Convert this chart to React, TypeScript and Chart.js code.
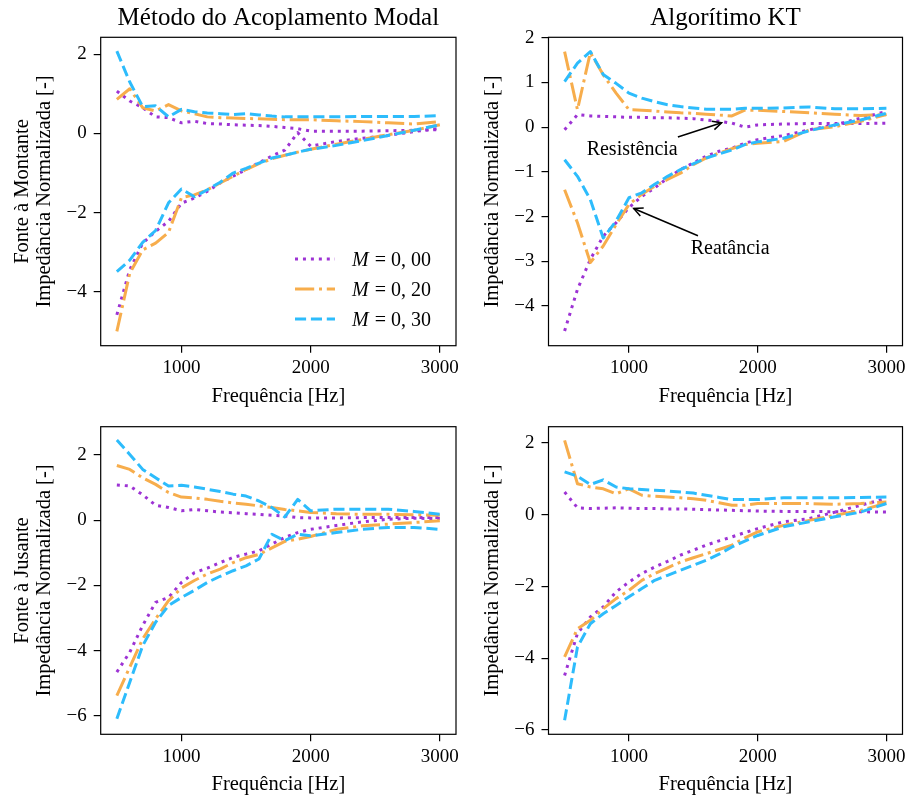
import React, { useEffect, useRef } from 'react';
import { Chart, registerables } from 'chart.js';

Chart.register(...registerables);

// ---------------- data ----------------
const FREQ = [500, 600, 700, 800, 900, 1000, 1100, 1200, 1300, 1400, 1500, 1600, 1700, 1800, 1900, 2000, 2200, 2400, 2600, 2800, 3000];

// Método do Acoplamento Modal — Fonte à Montante
const mamMontR00 = [1.07, 0.82, 0.65, 0.42, 0.40, 0.27, 0.31, 0.25, 0.24, 0.22, 0.21, 0.20, 0.18, 0.15, 0.12, 0.06, 0.06, 0.06, 0.07, 0.08, 0.10];
const mamMontX00 = [-4.58, -3.44, -2.77, -2.47, -2.22, -1.76, -1.63, -1.46, -1.25, -1.08, -0.91, -0.74, -0.57, -0.42, 0.02, -0.32, -0.20, -0.12, -0.05, 0.05, 0.13];
const mamMontR20 = [0.86, 1.13, 0.65, 0.57, 0.73, 0.57, 0.50, 0.42, 0.40, 0.39, 0.38, 0.37, 0.36, 0.35, 0.35, 0.35, 0.32, 0.30, 0.27, 0.24, 0.30];
const mamMontX20 = [-5.00, -3.53, -2.94, -2.77, -2.50, -1.62, -1.55, -1.42, -1.25, -1.08, -0.91, -0.76, -0.64, -0.55, -0.47, -0.40, -0.27, -0.15, -0.03, 0.08, 0.22];
const mamMontR30 = [2.08, 1.30, 0.68, 0.70, 0.42, 0.61, 0.55, 0.52, 0.50, 0.48, 0.50, 0.47, 0.44, 0.42, 0.42, 0.42, 0.42, 0.43, 0.43, 0.43, 0.45];
const mamMontX30 = [-3.49, -3.20, -2.75, -2.45, -1.75, -1.40, -1.60, -1.42, -1.23, -1.00, -0.88, -0.75, -0.62, -0.55, -0.47, -0.40, -0.30, -0.18, -0.05, 0.08, 0.22];

// Algorítimo KT — Fonte à Montante
const ktMontR00 = [-0.06, 0.28, 0.25, 0.24, 0.23, 0.22, 0.22, 0.21, 0.21, 0.20, 0.19, 0.16, 0.13, 0.09, 0.00, 0.05, 0.07, 0.08, 0.08, 0.08, 0.09];
const ktMontX00 = [-4.56, -3.63, -2.96, -2.44, -2.14, -1.80, -1.55, -1.36, -1.14, -0.95, -0.80, -0.65, -0.54, -0.47, -0.36, -0.28, -0.19, -0.06, 0.05, 0.20, 0.35];
const ktMontR20 = [1.69, 0.39, 1.67, 1.17, 0.76, 0.39, 0.38, 0.36, 0.34, 0.32, 0.31, 0.29, 0.27, 0.25, 0.38, 0.38, 0.35, 0.32, 0.29, 0.26, 0.28];
const ktMontX20 = [-1.40, -2.14, -3.03, -2.66, -2.18, -1.73, -1.50, -1.32, -1.17, -1.03, -0.84, -0.69, -0.58, -0.48, -0.39, -0.36, -0.32, -0.06, 0.01, 0.13, 0.28];
const ktMontR30 = [1.02, 1.43, 1.69, 1.18, 0.98, 0.76, 0.65, 0.57, 0.50, 0.46, 0.43, 0.40, 0.40, 0.40, 0.42, 0.42, 0.43, 0.45, 0.41, 0.41, 0.42];
const ktMontX30 = [-0.73, -1.10, -1.62, -2.48, -2.10, -1.58, -1.47, -1.28, -1.10, -0.95, -0.82, -0.69, -0.60, -0.51, -0.39, -0.33, -0.25, -0.08, 0.05, 0.16, 0.31];

// Método do Acoplamento Modal — Fonte à Jusante
const mamJusR00 = [1.08, 1.05, 0.78, 0.46, 0.39, 0.29, 0.33, 0.29, 0.25, 0.23, 0.20, 0.18, 0.15, 0.13, 0.08, 0.07, 0.07, 0.08, 0.08, 0.08, 0.08];
const mamJusX00 = [-4.66, -4.05, -3.23, -2.52, -2.37, -1.91, -1.61, -1.47, -1.30, -1.14, -1.04, -0.94, -0.73, -0.53, -0.38, -0.28, -0.16, -0.05, 0.03, 0.06, 0.05];
const mamJusR20 = [1.68, 1.56, 1.30, 1.10, 0.85, 0.71, 0.68, 0.64, 0.58, 0.53, 0.49, 0.44, 0.39, 0.33, 0.29, 0.24, 0.20, 0.18, 0.18, 0.17, 0.15];
const mamJusX20 = [-5.38, -4.51, -3.64, -3.03, -2.47, -2.08, -1.85, -1.65, -1.50, -1.30, -1.15, -1.05, -0.85, -0.65, -0.58, -0.50, -0.28, -0.17, -0.12, -0.07, -0.02];
const mamJusR30 = [2.46, 2.02, 1.56, 1.30, 1.05, 1.07, 1.02, 0.95, 0.88, 0.80, 0.74, 0.59, 0.39, 0.10, 0.64, 0.29, 0.34, 0.34, 0.34, 0.27, 0.18];
const mamJusX30 = [-6.09, -4.97, -3.85, -3.13, -2.62, -2.37, -2.15, -1.91, -1.72, -1.55, -1.40, -1.19, -0.43, -0.63, -0.43, -0.48, -0.38, -0.28, -0.22, -0.22, -0.28];

// Algorítimo KT — Fonte à Jusante
const ktJusR00 = [0.63, 0.19, 0.17, 0.18, 0.19, 0.18, 0.17, 0.17, 0.16, 0.16, 0.15, 0.14, 0.13, 0.12, 0.11, 0.10, 0.09, 0.09, 0.08, 0.08, 0.07];
const ktJusX00 = [-4.48, -3.31, -2.85, -2.57, -2.15, -1.88, -1.64, -1.46, -1.30, -1.13, -0.99, -0.85, -0.73, -0.62, -0.50, -0.39, -0.20, -0.11, 0.07, 0.26, 0.45];
const ktJusR20 = [2.07, 0.86, 0.77, 0.72, 0.58, 0.72, 0.54, 0.51, 0.49, 0.47, 0.44, 0.40, 0.33, 0.26, 0.26, 0.31, 0.31, 0.31, 0.29, 0.31, 0.35];
const ktJusX20 = [-3.96, -3.18, -2.94, -2.62, -2.34, -2.11, -1.83, -1.64, -1.48, -1.32, -1.20, -1.09, -0.97, -0.85, -0.65, -0.48, -0.30, -0.16, -0.02, 0.12, 0.32];
const ktJusR30 = [1.19, 1.07, 0.84, 0.97, 0.77, 0.72, 0.70, 0.68, 0.66, 0.63, 0.60, 0.54, 0.48, 0.42, 0.42, 0.42, 0.47, 0.47, 0.47, 0.48, 0.49];
const ktJusX30 = [-5.73, -3.69, -3.04, -2.76, -2.53, -2.29, -2.06, -1.83, -1.69, -1.55, -1.41, -1.27, -1.10, -0.90, -0.74, -0.58, -0.34, -0.20, -0.06, 0.07, 0.31];

const X_TICKS = [1000, 2000, 3000];
const X_MIN = 375;
const X_MAX = 3125;
const MACH_LABELS = ['0, 00', '0, 20', '0, 30'];

const TITLE_MAM = 'Método do Acoplamento Modal';
const TITLE_KT = 'Algorítimo KT';
const YLABEL_MAIN = 'Impedância Normalizada [-]';
const XLABEL = 'Frequência [Hz]';

// annotation anchors (data coordinates: [Hz, value])
const RES_LABEL = 'Resistência';
const RES_TEXT_AT = [1025, -0.5];
const RES_TAIL = [1380, -0.22];
const RES_HEAD = [1720, 0.1];
const REA_LABEL = 'Reatância';
const REA_TEXT_AT = [1786, -2.72];
const REA_TAIL = [1536, -2.43];
const REA_HEAD = [1037, -1.82];

// ---------------- styles ----------------
const FONT = "'Liberation Serif', 'DejaVu Serif', serif";
const C00 = '#9d33d4';
const C20 = '#f7ad4c';
const C30 = '#2dbcfc';
const DASH00 = [3, 4.95];
const DASH20 = [19.2, 4.8, 3, 4.8];
const DASH30 = [11.1, 4.8];
const LW = 3;

type Panel = {
  key: string;
  left: number;
  top: number;
  width: number;
  height: number;
  area: { l: number; t: number; r: number; b: number };
  title?: string;
  ylabel: string[];
  yMin: number;
  yMax: number;
  yTicks: number[];
  s: { r00: number[]; x00: number[]; r20: number[]; x20: number[]; r30: number[]; x30: number[] };
  legend?: boolean;
  notes?: boolean;
};

const PANELS: Panel[] = [
  {
    key: 'p1', left: 0, top: 0, width: 470, height: 420,
    area: { l: 100.7, t: 37.3, r: 456, b: 345.7 },
    title: TITLE_MAM, ylabel: ['Fonte à Montante', YLABEL_MAIN],
    yMin: -5.36, yMax: 2.43, yTicks: [-4, -2, 0, 2],
    s: { r00: mamMontR00, x00: mamMontX00, r20: mamMontR20, x20: mamMontX20, r30: mamMontR30, x30: mamMontX30 },
    legend: true,
  },
  {
    key: 'p2', left: 470, top: 0, width: 440, height: 420,
    area: { l: 78.5, t: 37.3, r: 432.5, b: 345.7 },
    title: TITLE_KT, ylabel: [YLABEL_MAIN],
    yMin: -4.89, yMax: 2.01, yTicks: [-4, -3, -2, -1, 0, 1, 2],
    s: { r00: ktMontR00, x00: ktMontX00, r20: ktMontR20, x20: ktMontX20, r30: ktMontR30, x30: ktMontX30 },
    notes: true,
  },
  {
    key: 'p3', left: 0, top: 400, width: 470, height: 400,
    area: { l: 100.7, t: 26.7, r: 456, b: 334.3 },
    ylabel: ['Fonte à Jusante', YLABEL_MAIN],
    yMin: -6.57, yMax: 2.87, yTicks: [-6, -4, -2, 0, 2],
    s: { r00: mamJusR00, x00: mamJusX00, r20: mamJusR20, x20: mamJusX20, r30: mamJusR30, x30: mamJusX30 },
  },
  {
    key: 'p4', left: 470, top: 400, width: 440, height: 400,
    area: { l: 78.5, t: 26.7, r: 432.5, b: 334.3 },
    ylabel: [YLABEL_MAIN],
    yMin: -6.12, yMax: 2.45, yTicks: [-6, -4, -2, 0, 2],
    s: { r00: ktJusR00, x00: ktJusX00, r20: ktJusR20, x20: ktJusX20, r30: ktJusR30, x30: ktJusX30 },
  },
];

const fmt = (v: number) => (v < 0 ? '\u2212' + String(Math.abs(v)) : String(v));

function drawArrow(ctx: CanvasRenderingContext2D, x0: number, y0: number, x1: number, y1: number) {
  ctx.beginPath();
  ctx.moveTo(x0, y0);
  ctx.lineTo(x1, y1);
  ctx.stroke();
  const ang = Math.atan2(y1 - y0, x1 - x0);
  const L = 10;
  const w = 0.45;
  ctx.beginPath();
  ctx.moveTo(x1 - L * Math.cos(ang - w), y1 - L * Math.sin(ang - w));
  ctx.lineTo(x1, y1);
  ctx.lineTo(x1 - L * Math.cos(ang + w), y1 - L * Math.sin(ang + w));
  ctx.stroke();
}

const decorPlugin = {
  id: 'decor',
  afterDraw(chart: any, _args: any, opts: any) {
    const p: Panel = opts.panel;
    const { ctx, chartArea: a, scales } = chart;
    const cx = (a.left + a.right) / 2;
    const cy = (a.top + a.bottom) / 2;
    ctx.save();
    ctx.setLineDash([]);
    ctx.strokeStyle = '#000';
    ctx.lineWidth = 1.2;
    ctx.strokeRect(a.left, a.top, a.right - a.left, a.bottom - a.top);
    ctx.fillStyle = '#000';
    ctx.textAlign = 'center';
    ctx.textBaseline = 'alphabetic';
    if (p.title) {
      ctx.font = `25px ${FONT}`;
      ctx.fillText(p.title, cx, a.top - 12.3);
    }
    ctx.font = `20.5px ${FONT}`;
    ctx.fillText(XLABEL, cx, a.bottom + 56);
    const offs = p.ylabel.length === 2 ? [72.4, 50.7] : [50.7];
    p.ylabel.forEach((line, i) => {
      ctx.save();
      ctx.translate(a.left - offs[i], cy);
      ctx.rotate(-Math.PI / 2);
      ctx.fillText(line, 0, 0);
      ctx.restore();
    });

    if (p.legend) {
      const entries = [
        { c: C00, d: DASH00, t: MACH_LABELS[0] },
        { c: C20, d: DASH20, t: MACH_LABELS[1] },
        { c: C30, d: DASH30, t: MACH_LABELS[2] },
      ];
      entries.forEach((e, i) => {
        const y = a.bottom - 86.7 + i * 30;
        ctx.save();
        ctx.strokeStyle = e.c;
        ctx.lineWidth = LW;
        ctx.setLineDash(e.d);
        ctx.beginPath();
        ctx.moveTo(a.right - 161, y);
        ctx.lineTo(a.right - 121, y);
        ctx.stroke();
        ctx.restore();
        ctx.textAlign = 'left';
        ctx.font = `italic 20px ${FONT}`;
        const x0 = a.right - 104;
        ctx.fillText('M', x0, y + 6.8);
        const wM = ctx.measureText('M').width;
        ctx.font = `20px ${FONT}`;
        ctx.fillText(' = ' + e.t, x0 + wM + 1, y + 6.8);
      });
    }

    if (p.notes) {
      const xs = scales.x;
      const ys = scales.y;
      const P = (pt: number[]) => [xs.getPixelForValue(pt[0]), ys.getPixelForValue(pt[1])];
      ctx.font = `20px ${FONT}`;
      ctx.textAlign = 'center';
      ctx.textBaseline = 'middle';
      const rt = P(RES_TEXT_AT);
      ctx.fillText(RES_LABEL, rt[0], rt[1]);
      const at = P(REA_TEXT_AT);
      ctx.fillText(REA_LABEL, at[0], at[1]);
      ctx.strokeStyle = '#000';
      ctx.lineWidth = 1.5;
      const r0 = P(RES_TAIL), r1 = P(RES_HEAD);
      drawArrow(ctx, r0[0], r0[1], r1[0], r1[1]);
      const q0 = P(REA_TAIL), q1 = P(REA_HEAD);
      drawArrow(ctx, q0[0], q0[1], q1[0], q1[1]);
    }
    ctx.restore();
  },
};

function mk(arr: number[], color: string, dash: number[]) {
  return {
    data: FREQ.map((f, i) => ({ x: f, y: arr[i] })),
    borderColor: color,
    backgroundColor: color,
    borderWidth: LW,
    borderDash: dash,
    borderCapStyle: 'butt',
    borderJoinStyle: 'round',
    pointRadius: 0,
    pointHoverRadius: 0,
    fill: false,
    tension: 0,
  };
}

function PanelChart({ p }: { p: Panel }) {
  const ref = useRef<HTMLCanvasElement | null>(null);
  useEffect(() => {
    if (!ref.current) return;
    const xAxisH = p.height - p.area.b;
    const chart = new Chart(ref.current, {
      type: 'line',
      data: {
        datasets: [
          mk(p.s.r30, C30, DASH30),
          mk(p.s.x30, C30, DASH30),
          mk(p.s.r20, C20, DASH20),
          mk(p.s.x20, C20, DASH20),
          mk(p.s.r00, C00, DASH00),
          mk(p.s.x00, C00, DASH00),
        ] as any,
      },
      options: {
        animation: false,
        responsive: false,
        maintainAspectRatio: false,
        devicePixelRatio: 1,
        events: [],
        layout: { padding: { left: 0, top: p.area.t, right: p.width - p.area.r, bottom: 0 } },
        plugins: {
          legend: { display: false },
          tooltip: { enabled: false },
          title: { display: false },
          decor: { panel: p },
        } as any,
        scales: {
          x: {
            type: 'linear',
            min: X_MIN,
            max: X_MAX,
            afterBuildTicks: (s: any) => {
              s.ticks = X_TICKS.map((v) => ({ value: v }));
            },
            afterFit: (s: any) => {
              s.height = xAxisH;
              s.paddingLeft = 0;
              s.paddingRight = 0;
            },
            ticks: {
              callback: (v: any) => String(v),
              color: '#000',
              font: { family: FONT, size: 19 },
              padding: 4,
              maxRotation: 0,
              autoSkip: false,
            },
            grid: {
              drawOnChartArea: false,
              drawTicks: true,
              tickLength: 7,
              color: '#000',
              lineWidth: 1.2,
            },
            border: { display: false },
          },
          y: {
            type: 'linear',
            min: p.yMin,
            max: p.yMax,
            afterBuildTicks: (s: any) => {
              s.ticks = p.yTicks.map((v) => ({ value: v }));
            },
            afterFit: (s: any) => {
              s.width = p.area.l;
              s.paddingTop = 0;
              s.paddingBottom = 0;
            },
            ticks: {
              callback: (v: any) => fmt(Number(v)),
              color: '#000',
              font: { family: FONT, size: 19 },
              padding: 7,
              autoSkip: false,
            },
            grid: {
              drawOnChartArea: false,
              drawTicks: true,
              tickLength: 7,
              color: '#000',
              lineWidth: 1.2,
            },
            border: { display: false },
          },
        },
      } as any,
      plugins: [decorPlugin as any],
    });
    return () => chart.destroy();
  }, [p]);
  return (
    <canvas
      ref={ref}
      width={p.width}
      height={p.height}
      style={{ position: 'absolute', left: p.left, top: p.top, width: p.width, height: p.height }}
    />
  );
}

export default function App() {
  return (
    <div style={{ position: 'absolute', left: 0, top: 0, width: 910, height: 800, background: '#fff', overflow: 'hidden' }}>
      {PANELS.map((p) => (
        <PanelChart key={p.key} p={p} />
      ))}
    </div>
  );
}
